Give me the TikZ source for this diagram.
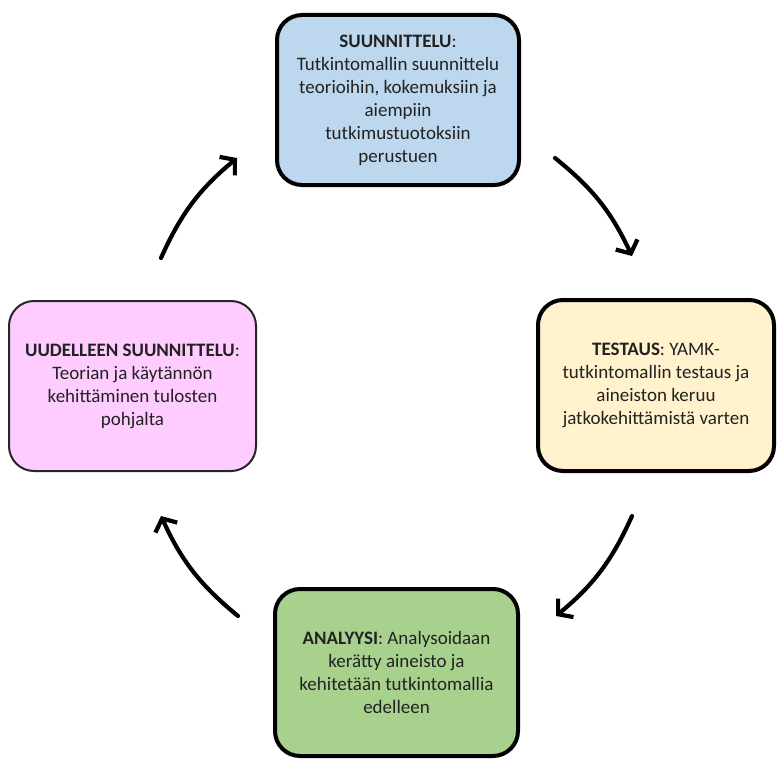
\documentclass[tikz,border=0pt]{standalone}
\usepackage{fontspec}
\setmainfont{Carlito}
\usetikzlibrary{arrows.meta}
\definecolor{bluebox}{HTML}{BDD7EE}
\definecolor{yellowbox}{HTML}{FFF2CC}
\definecolor{pinkbox}{HTML}{FFCCFF}
\definecolor{greenbox}{HTML}{A9D18E}
\definecolor{txt}{HTML}{222222}
\tikzset{
  box/.style={draw=black, line width=4pt, rounded corners=25pt, align=center,
    text=txt, font=\fontsize{19}{23}\selectfont, inner sep=0pt},
  cyc/.style={line width=4.2pt, line cap=round, -{Straight Barb[length=10pt,width=24pt]}, bend left=13}
}
\begin{document}
\begin{tikzpicture}[x=1pt,y=-1pt]
\useasboundingbox[fill=white] (0,0) rectangle (777,760);
\node[box, fill=bluebox, minimum width=242pt, minimum height=170pt] (top) at (398,100)
  {\textbf{SUUNNITTELU}:\\Tutkintomallin suunnittelu\\teorioihin, kokemuksiin ja\\aiempiin\\tutkimustuotoksiin\\perustuen};
\node[box, fill=yellowbox, minimum width=236pt, minimum height=171pt] (right) at (656,385.5)
  {\textbf{TESTAUS}: YAMK-\\tutkintomallin testaus ja\\aineiston keruu\\jatkokehittämistä varten};
\node[box, fill=greenbox, minimum width=243pt, minimum height=167pt] (bottom) at (396.5,672.5)
  {\textbf{ANALYYSI}: Analysoidaan\\kerätty aineisto ja\\kehitetään tutkintomallia\\edelleen};
\node[box, draw=black!85, line width=2pt, fill=pinkbox, minimum width=247pt, minimum height=170pt] (left) at (132.5,386)
  {\textbf{UUDELLEEN SUUNNITTELU}:\\Teorian ja käytännön\\kehittäminen tulosten\\pohjalta};
\coordinate (a1s) at (555,158);
\coordinate (a1e) at (632,256);
\coordinate (a2s) at (632,516);
\coordinate (a2e) at (556,616);
\coordinate (a3s) at (238,616);
\coordinate (a3e) at (161,516);
\coordinate (a4s) at (161,258);
\coordinate (a4e) at (237,158);
\draw[cyc] (a1s) to (a1e);
\draw[cyc] (a2s) to (a2e);
\draw[cyc] (a3s) to (a3e);
\draw[cyc] (a4s) to (a4e);
\end{tikzpicture}
\end{document}
